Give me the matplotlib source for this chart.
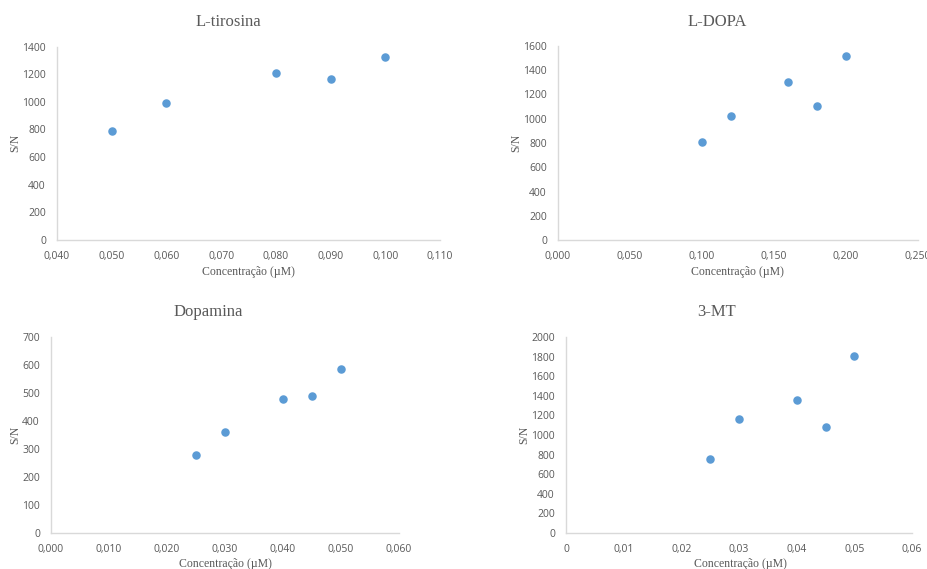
import matplotlib
matplotlib.use("Agg")
import matplotlib.pyplot as plt
from matplotlib.ticker import FuncFormatter, MultipleLocator

# data
tiro_x = [0.050, 0.060, 0.080, 0.090, 0.100]
tiro_y = [787, 993, 1207, 1167, 1322]
dopa_x = [0.100, 0.120, 0.160, 0.180, 0.200]
dopa_y = [808, 1025, 1300, 1105, 1520]
dopamina_x = [0.025, 0.030, 0.040, 0.045, 0.050]
dopamina_y = [279, 362, 478, 490, 584]
mt_x = [0.025, 0.030, 0.040, 0.045, 0.050]
mt_y = [759, 1163, 1356, 1081, 1807]

titles = ["L-tirosina", "L-DOPA", "Dopamina", "3-MT"]
xlabel = "Concentração (µM)"
ylabel = "S/N"

W, H = 928, 569
grey = "#595959"
spine_c = "#d9d9d9"
dot_c = "#5b9bd5"
serif = "Liberation Serif"
sans = "Open Sans"


def comma(dec):
    return FuncFormatter(lambda v, p: (("%." + str(dec) + "f") % v).replace(".", ","))


def px(x0, y0, x1, y1):
    # pixel box -> figure fraction [left, bottom, width, height]
    return [x0 / W, 1 - y1 / H, (x1 - x0) / W, (y1 - y0) / H]


fig = plt.figure(figsize=(W / 100, H / 100), dpi=100)

panels = [
    dict(x=tiro_x, y=tiro_y, box=(57, 46.5, 440, 240), xlim=(0.04, 0.11), xstep=0.01,
         xdec=3, ylim=(0, 1400), ystep=200, title=(228, 22), xl=(248, 272), yl=(15, 143)),
    dict(x=dopa_x, y=dopa_y, box=(558, 46, 918, 240), xlim=(0.0, 0.25), xstep=0.05,
         xdec=3, ylim=(0, 1600), ystep=200, title=(717, 22), xl=(737, 272), yl=(516, 143)),
    dict(x=dopamina_x, y=dopamina_y, box=(51, 337, 399, 533), xlim=(0.0, 0.06), xstep=0.01,
         xdec=3, ylim=(0, 700), ystep=100, title=(208, 312), xl=(225, 564), yl=(15, 435)),
    dict(x=mt_x, y=mt_y, box=(566, 337, 912, 533), xlim=(0.0, 0.06), xstep=0.01,
         xdec=2, ylim=(0, 2000), ystep=200, title=(717, 312), xl=(740, 564), yl=(524, 435)),
]

for i, p in enumerate(panels):
    ax = fig.add_axes(px(*p["box"]))
    ax.scatter(p["x"], p["y"], s=26, color=dot_c, zorder=3, clip_on=False)
    ax.set_xlim(*p["xlim"])
    ax.set_ylim(*p["ylim"])
    ax.xaxis.set_major_locator(MultipleLocator(p["xstep"]))
    ax.yaxis.set_major_locator(MultipleLocator(p["ystep"]))
    if i == 3:
        ax.xaxis.set_major_formatter(FuncFormatter(
            lambda v, q: "0" if abs(v) < 1e-9 else ("%.2f" % v).replace(".", ",")))
    else:
        ax.xaxis.set_major_formatter(comma(p["xdec"]))
    ax.yaxis.set_major_formatter(FuncFormatter(lambda v, q: "%d" % v))
    for s in ["top", "right"]:
        ax.spines[s].set_visible(False)
    for s in ["left", "bottom"]:
        ax.spines[s].set_color(spine_c)
        ax.spines[s].set_linewidth(1.0)
    ax.tick_params(length=0, labelsize=7.5, labelcolor=grey, pad=8)
    for lab in ax.get_xticklabels() + ax.get_yticklabels():
        lab.set_fontfamily(sans)
    fig.text(p["title"][0] / W, 1 - p["title"][1] / H, titles[i], ha="center", va="center",
             fontsize=12, color=grey, family=serif)
    fig.text(p["xl"][0] / W, 1 - p["xl"][1] / H, xlabel, ha="center", va="center",
             fontsize=8.5, color=grey, family=serif)
    fig.text(p["yl"][0] / W, 1 - p["yl"][1] / H, ylabel, ha="center", va="center",
             fontsize=8.5, color=grey, family=serif, rotation=90)

fig.savefig("out.png", dpi=100)
